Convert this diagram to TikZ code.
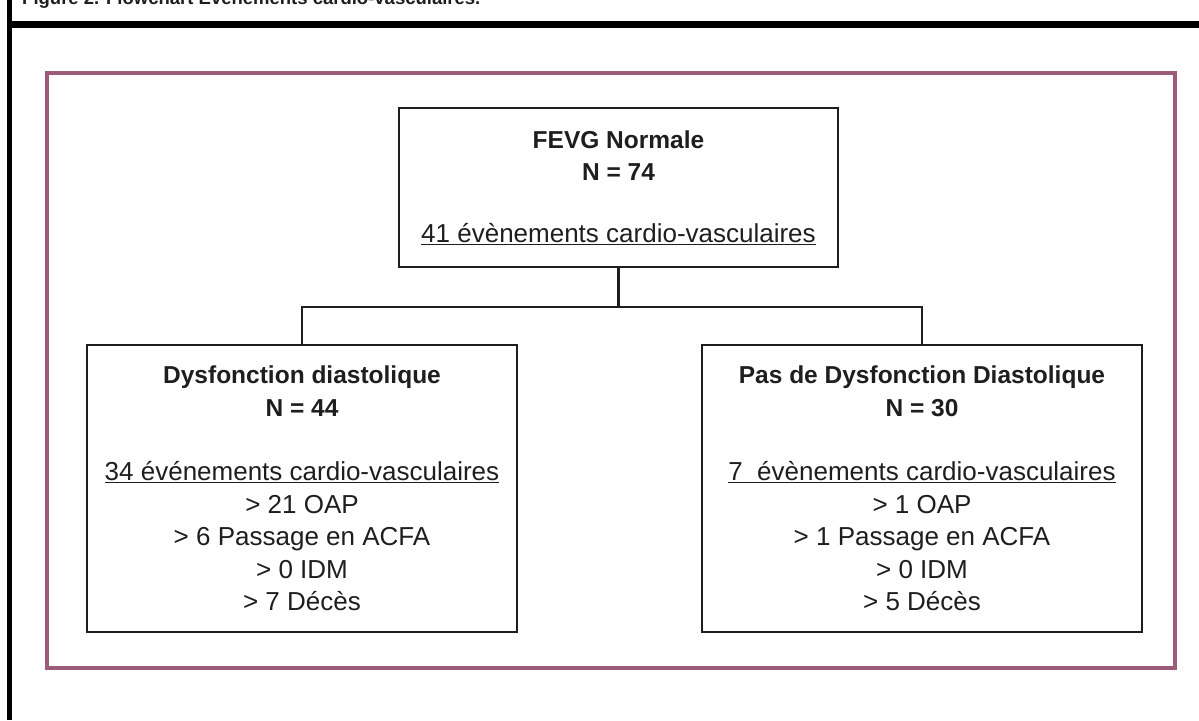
\documentclass[tikz,border=0pt]{standalone}
\usepackage{fontspec}
\setmainfont{Liberation Sans}
\usetikzlibrary{positioning}
\definecolor{ink}{HTML}{1E1E1E}
\definecolor{mauve}{HTML}{9C5B7B}
\newcommand{\hd}[1]{{\fontsize{24.5}{32.5}\selectfont\bfseries #1}}

\begin{document}
\begin{tikzpicture}[x=1pt,y=-1pt,
 box/.style={draw=ink,line width=2.4pt,align=center,text=ink,inner sep=0pt,
 font=\fontsize{26}{32.5}\selectfont},
 link/.style={draw=ink,line width=2.4pt}]
\useasboundingbox (0,0) rectangle (1199,720);
% table border and caption
\draw[line width=5pt] (9.5,0) -- (9.5,720);
\draw[line width=7pt] (7,24.5) -- (1199,24.5);
\node[anchor=base west,inner sep=0pt,text=ink,
 font=\fontsize{18.5}{20}\selectfont\bfseries] (caption) at (22,5)
 {Figure 2. Flowchart Evénements cardio-vasculaires.};
\draw[mauve,line width=4pt] (47,73) rectangle (1175,668);
% boxes
\node[box,minimum width=439pt,minimum height=159pt] (fevg) at (618.5,187.5)
 {\hd{FEVG Normale}\\ \hd{N = 74}\\[29pt]
 \underline{41 évènements cardio-vasculaires}};
\node[box,minimum width=430pt,minimum height=287pt] (dd) at (302,488.5)
 {\hd{Dysfonction diastolique}\\ \hd{N = 44}\\[32pt]
 \underline{34 événements cardio-vasculaires}\\
 > 21 OAP\\ > 6 Passage en ACFA\\ > 0 IDM\\ > 7 Décès};
\node[box,minimum width=440pt,minimum height=287pt] (nodd) at (922,488.5)
 {\hd{Pas de Dysfonction Diastolique}\\ \hd{N = 30}\\[32pt]
 \underline{7\ \ évènements cardio-vasculaires}\\
 > 1 OAP\\ > 1 Passage en ACFA\\ > 0 IDM\\ > 5 Décès};
% connectors
\coordinate (split) at (618.5,307);
\draw[link] (fevg.south) -- (split);
\draw[link] (dd.north) |- (split) -| (nodd.north);
\end{tikzpicture}
\end{document}
